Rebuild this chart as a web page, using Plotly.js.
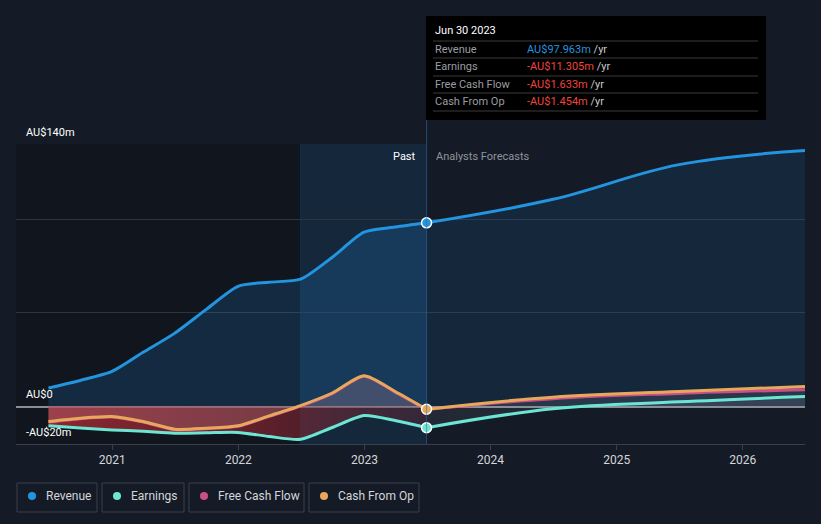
<!DOCTYPE html>
<html>
<head>
<meta charset="utf-8">
<script src="https://cdn.plot.ly/plotly-3.0.1.min.js"></script>
<style>
html,body{margin:0;padding:0;background:#151b26;}
#chart{width:821px;height:524px;}
</style>
</head>
<body>
<div id="chart"></div>
<script>
// ---- data ----
const pastDates = ['2020-06-30','2020-09-30','2020-12-31','2021-03-31','2021-06-30','2021-09-30','2021-12-31','2022-03-31','2022-06-30','2022-09-30','2022-12-31','2023-03-31','2023-06-30'];
const forecastDates = ['2023-06-30','2024-06-30','2025-06-30','2026-06-30'];

const revenuePast = [9.9,13.9,18.7,28.9,39.0,51.8,64.1,66.3,67.9,79.6,93.0,95.7,97.963];
const revenueForecast = [97.963,110.5,129.0,136.5];

const earningsPast = [-10.2,-11.5,-12.5,-13.2,-14.2,-14.0,-13.8,-16.0,-17.5,-11.2,-4.8,-7.5,-11.305];
const earningsForecast = [-11.305,-1.2,2.5,5.3];

const fcfPast = [-8.3,-6.5,-5.6,-8.3,-12.4,-11.9,-10.6,-5.3,0.2,6.9,16.1,7.7,-1.633];
const fcfForecast = [-1.633,4.2,7.0,8.9];

const cfoPast = [-8.0,-6.2,-5.3,-8.0,-12.1,-11.6,-10.3,-5.0,0.5,7.2,16.4,8.0,-1.454];
const cfoForecast = [-1.454,5.0,8.0,10.7];

const yTickVals = [0,50,100,140];
const yLabels = [{v:140,t:'AU$140m'},{v:0,t:'AU$0'},{v:-20,t:'-AU$20m'}];
const xTickVals = ['2021-01-01','2022-01-01','2023-01-01','2024-01-01','2025-01-01','2026-01-01'];
const xTickText = ['2021','2022','2023','2024','2025','2026'];

const tipDate = 'Jun 30 2023';
const tipRows = [
  {name:'Revenue', val:'AU$97.963m', col:'#2394df'},
  {name:'Earnings', val:'-AU$11.305m', col:'#f0443a'},
  {name:'Free Cash Flow', val:'-AU$1.633m', col:'#f0443a'},
  {name:'Cash From Op', val:'-AU$1.454m', col:'#f0443a'}
];
const legendItems = [
  {name:'Revenue', col:'#2394df'},
  {name:'Earnings', col:'#6ce5d2'},
  {name:'Free Cash Flow', col:'#c94e8a'},
  {name:'Cash From Op', col:'#e8a85b'}
];

// ---- colours ----
const C = {rev:'#2394df', earn:'#6ce5d2', fcf:'#c94e8a', cfo:'#e8a85b'};

// pixel -> paper helpers (plot area x:16..805, y:144..444)
const L=16, R=805, T=144, B=444;
const px = x => (x-L)/(R-L);
const py = y => (B-y)/(B-T);

const lineOpts = (color, s) => ({color:color, width:3, shape:'spline', smoothing:s});
const ghost = (s) => ({color:'rgba(0,0,0,0)', width:0, shape:'spline', smoothing:s});
const SP = 0.7, SF = 1.1;

const traces = [
  // revenue
  {x:pastDates, y:revenuePast, type:'scatter', mode:'lines', line:lineOpts(C.rev, SP), fill:'tozeroy', fillcolor:'rgba(33,150,243,0.17)', hoverinfo:'skip'},
  {x:forecastDates, y:revenueForecast, type:'scatter', mode:'lines', line:lineOpts(C.rev, SF), fill:'tozeroy', fillcolor:'rgba(33,150,243,0.10)', hoverinfo:'skip'},
  // earnings fill (past) red
  {x:pastDates, y:earningsPast, type:'scatter', mode:'lines', line:ghost(SP), fill:'tozeroy',
   fillgradient:{type:'horizontal', colorscale:[[0,'rgba(180,45,55,0.75)'],[0.55,'rgba(150,40,50,0.6)'],[1,'rgba(110,40,55,0.35)']]}, hoverinfo:'skip'},
  // cfo fill (past)
  {x:pastDates, y:cfoPast, type:'scatter', mode:'lines', line:ghost(SP), fill:'tozeroy', fillcolor:'rgba(220,160,175,0.22)', hoverinfo:'skip'},
  // forecast fill grey
  {x:forecastDates, y:cfoForecast, type:'scatter', mode:'lines', line:ghost(SF), fill:'tozeroy', fillcolor:'rgba(170,170,180,0.13)', hoverinfo:'skip'},
  {x:forecastDates, y:earningsForecast, type:'scatter', mode:'lines', line:ghost(SF), fill:'tozeroy', fillcolor:'rgba(170,170,180,0.10)', hoverinfo:'skip'},
  // lines
  {x:pastDates, y:earningsPast, type:'scatter', mode:'lines', line:lineOpts(C.earn, SP), hoverinfo:'skip'},
  {x:forecastDates, y:earningsForecast, type:'scatter', mode:'lines', line:lineOpts(C.earn, SF), hoverinfo:'skip'},
  {x:pastDates, y:fcfPast, type:'scatter', mode:'lines', line:lineOpts(C.fcf, SP), hoverinfo:'skip'},
  {x:forecastDates, y:fcfForecast, type:'scatter', mode:'lines', line:lineOpts(C.fcf, SF), hoverinfo:'skip'},
  {x:pastDates, y:cfoPast, type:'scatter', mode:'lines', line:lineOpts(C.cfo, SP), hoverinfo:'skip'},
  {x:forecastDates, y:cfoForecast, type:'scatter', mode:'lines', line:lineOpts(C.cfo, SF), hoverinfo:'skip'},
  // markers at Jun 30 2023
  {x:[pastDates[12]], y:[revenuePast[12]], type:'scatter', mode:'markers', marker:{size:10, color:C.rev, line:{color:'#ffffff', width:1.5}}, hoverinfo:'skip'},
  {x:[pastDates[12]], y:[earningsPast[12]], type:'scatter', mode:'markers', marker:{size:10, color:C.earn, line:{color:'#ffffff', width:1.5}}, hoverinfo:'skip'},
  {x:[pastDates[12]], y:[cfoPast[12]], type:'scatter', mode:'markers', marker:{size:10, color:C.cfo, line:{color:'#ffffff', width:1.5}}, hoverinfo:'skip'}
];

const shapes = [
  // dark left region
  {type:'rect', layer:'below', xref:'x', yref:'y', x0:'2020-03-28', x1:'2022-06-30', y0:-20, y1:140, fillcolor:'rgba(0,0,0,0.20)', line:{width:0}},
  // highlighted past year
  {type:'rect', layer:'below', xref:'x', yref:'y', x0:'2022-06-30', x1:'2023-06-30', y0:-20, y1:140, fillcolor:'rgba(33,150,243,0.10)', line:{width:0}},
  // divider at 2022-06-30
  {type:'line', layer:'below', xref:'x', yref:'y', x0:'2022-06-30', x1:'2022-06-30', y0:-20, y1:140, line:{color:'rgba(33,150,243,0.12)', width:1}},
  // vertical line at current date
  {type:'line', layer:'above', xref:'x', yref:'paper', x0:'2023-06-30', x1:'2023-06-30', y0:0, y1:py(120), line:{color:'rgba(50,110,170,0.55)', width:1}},
  // tooltip box
  {type:'rect', layer:'above', xref:'paper', yref:'paper', x0:px(426), x1:px(766), y0:py(120), y1:py(16), fillcolor:'#000000', line:{width:0}}
];
// tooltip separators
[41,58,76,93,111].forEach(yy => shapes.push({type:'line', layer:'above', xref:'paper', yref:'paper', x0:px(433), x1:px(758), y0:py(yy), y1:py(yy), line:{color:'#3a3a3a', width:1}}));

const annotations = [];
// y labels
yLabels.forEach(l => {
  const ypix = B - (l.v + 20) / 160 * (B - T);
  annotations.push({xref:'paper', yref:'paper', x:px(24), y:py(ypix-12), xanchor:'left', yanchor:'middle', text:l.t, showarrow:false, font:{family:'Roboto, sans-serif', size:11, color:'#ffffff'}});
});
// Past / Forecasts
annotations.push({xref:'paper', yref:'paper', x:px(418), y:py(156), xanchor:'right', yanchor:'middle', text:'Past', showarrow:false, font:{family:'Roboto, sans-serif', size:11, color:'#ffffff'}});
annotations.push({xref:'paper', yref:'paper', x:px(434), y:py(156), xanchor:'left', yanchor:'middle', text:'Analysts Forecasts', showarrow:false, font:{family:'Roboto, sans-serif', size:11, color:'#8f949c'}});
// tooltip text
annotations.push({xref:'paper', yref:'paper', x:px(433), y:py(31), xanchor:'left', yanchor:'middle', text:tipDate, showarrow:false, font:{family:'Roboto, sans-serif', size:11, color:'#ffffff'}});
const rowY = [49,66,84,101];
tipRows.forEach((r,i) => {
  annotations.push({xref:'paper', yref:'paper', x:px(433), y:py(rowY[i]), xanchor:'left', yanchor:'middle', text:r.name, showarrow:false, font:{family:'Roboto, sans-serif', size:11, color:'#9a9da3'}});
  annotations.push({xref:'paper', yref:'paper', x:px(525), y:py(rowY[i]), xanchor:'left', yanchor:'middle', text:'<span style="color:'+r.col+'">'+r.val+'</span> /yr', showarrow:false, font:{family:'Roboto, sans-serif', size:11, color:'#c8cacd'}});
});
// legend
const boxes = [[17,97],[102,184],[189,304],[309,419]];
legendItems.forEach((it,i) => {
  const [a,b] = boxes[i];
  shapes.push({type:'rect', layer:'above', xref:'paper', yref:'paper', x0:px(a), x1:px(b), y0:py(512), y1:py(483), fillcolor:'rgba(0,0,0,0)', line:{color:'#3b414b', width:1}});
  shapes.push({type:'circle', layer:'above', xref:'paper', yref:'paper', x0:px(a+11), x1:px(a+19), y0:py(500), y1:py(492), fillcolor:it.col, line:{width:0}});
  annotations.push({xref:'paper', yref:'paper', x:px(a+27), y:py(496), xanchor:'left', yanchor:'middle', text:it.name, showarrow:false, font:{family:'Roboto, sans-serif', size:12, color:'#d4d6d9'}});
});

const layout = {
  width:821, height:524,
  margin:{l:L, r:821-R, t:T, b:524-B, pad:0},
  paper_bgcolor:'#151b26', plot_bgcolor:'#151b26',
  showlegend:false,
  xaxis:{type:'date', range:['2020-03-28','2026-06-30'], tickvals:xTickVals, ticktext:xTickText, showgrid:false, zeroline:false,
         showline:true, linecolor:'#3b414b', linewidth:1, ticks:'outside', ticklen:5, tickcolor:'#3b414b',
         tickfont:{family:'Roboto, sans-serif', size:12, color:'#d4d6d9'}, fixedrange:true},
  yaxis:{range:[-20,140], tickvals:yTickVals, showticklabels:false, showgrid:true, gridcolor:'#2e343e', gridwidth:1,
         zeroline:true, zerolinecolor:'#8a8d93', zerolinewidth:2, showline:false, fixedrange:true},
  shapes:shapes, annotations:annotations
};

Plotly.newPlot('chart', traces, layout, {displayModeBar:false, staticPlot:true});
</script>
</body>
</html>
